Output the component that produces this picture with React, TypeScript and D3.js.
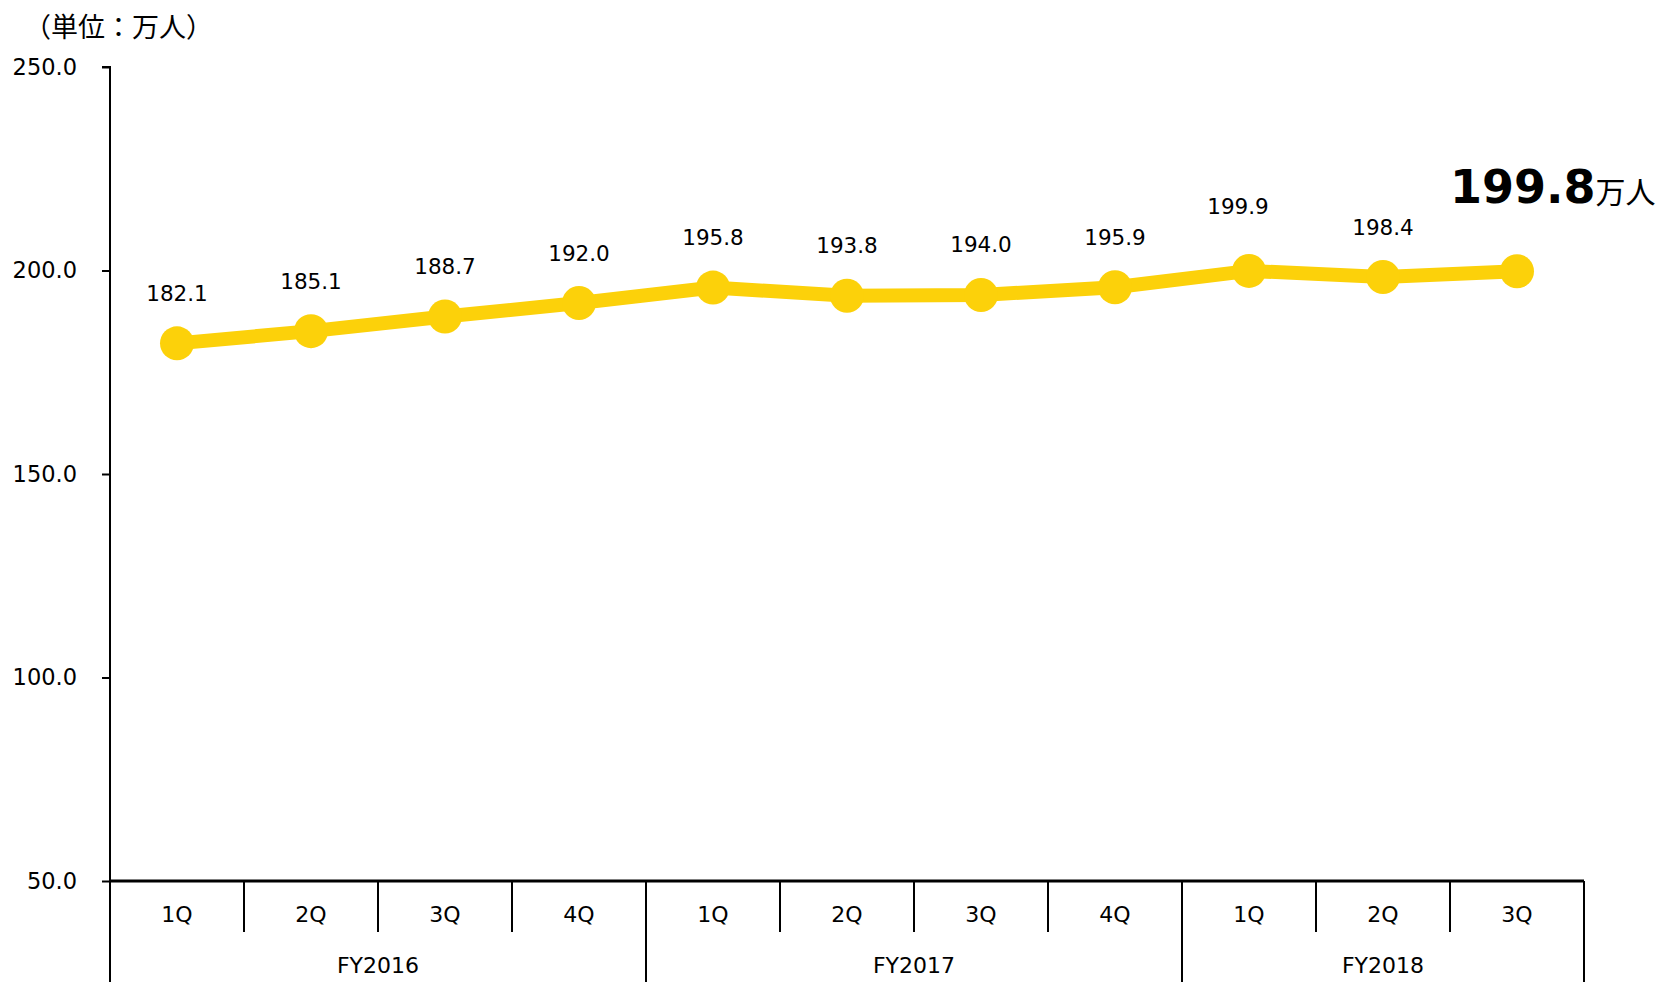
import React, { useEffect, useRef } from "react"
import * as d3 from "d3"

const quarters = ["1Q", "2Q", "3Q", "4Q", "1Q", "2Q", "3Q", "4Q", "1Q", "2Q", "3Q"]
const years = ["FY2016", "FY2017", "FY2018"]
const yearSpans = [4, 4, 3]
const values = [182.1, 185.1, 188.7, 192.0, 195.8, 193.8, 194.0, 195.9, 199.9, 198.4, 199.8]
const yTicks = [50, 100, 150, 200, 250]
const unitLabel = "（単位：万人）"
const unitSuffix = "万人"

const FONT = "'DejaVu Sans', Verdana, 'Noto Sans CJK JP', sans-serif"
const JP_FONT = "'Noto Sans CJK JP', sans-serif"

const App = () => {
  const ref = useRef<SVGSVGElement>(null)

  useEffect(() => {
    const svg = d3.select(ref.current)
    svg.selectAll("*").remove()

    const left = 110
    const right = 1584
    const top = 67
    const bottom = 881

    const idx = quarters.map((_, i) => i)
    const x = d3.scaleBand<number>().domain(idx).range([left, right]).padding(0)
    const y = d3.scaleLinear().domain([50, 250]).range([bottom, top])
    const cx = (i: number) => (x(i) as number) + x.bandwidth() / 2

    // unit label
    svg.append("text")
      .attr("x", 24)
      .attr("y", 37)
      .style("font-family", JP_FONT)
      .style("font-size", "27px")
      .attr("fill", "#000")
      .text(unitLabel)

    // y axis
    const yAxis = d3.axisLeft(y).tickValues(yTicks).tickSize(8).tickFormat(d3.format(".1f"))
    const gy = svg.append("g").attr("transform", `translate(${left},0)`).call(yAxis)
    gy.select(".domain").attr("stroke", "#000").attr("stroke-width", 2).attr("d", `M-8,${top}H0V${bottom}`)
    gy.selectAll(".tick line").attr("stroke", "#000").attr("stroke-width", 2)
    gy.selectAll(".tick text")
      .attr("x", -33)
      .style("font-family", FONT)
      .style("font-size", "22.5px")
      .attr("fill", "#000")

    // x axis line
    svg.append("line")
      .attr("x1", left).attr("x2", right)
      .attr("y1", bottom).attr("y2", bottom)
      .attr("stroke", "#000").attr("stroke-width", 3)

    // category dividers
    const yearStarts: number[] = []
    let acc = 0
    yearSpans.forEach((s) => { yearStarts.push(acc); acc += s })
    const dividers = d3.range(quarters.length + 1)
    svg.selectAll(".div")
      .data(dividers)
      .enter()
      .append("line")
      .attr("x1", (d) => (d < quarters.length ? (x(d) as number) : right))
      .attr("x2", (d) => (d < quarters.length ? (x(d) as number) : right))
      .attr("y1", bottom)
      .attr("y2", (d) => (yearStarts.includes(d) || d === quarters.length ? 982 : 932))
      .attr("stroke", "#000")
      .attr("stroke-width", 2)

    svg.selectAll(".qlab")
      .data(quarters)
      .enter()
      .append("text")
      .attr("x", (_, i) => cx(i))
      .attr("y", 914)
      .attr("text-anchor", "middle")
      .attr("dominant-baseline", "central")
      .style("font-family", FONT)
      .style("font-size", "22px")
      .text((d) => d)

    svg.selectAll(".ylab")
      .data(years)
      .enter()
      .append("text")
      .attr("x", (_, i) => {
        const s = yearStarts[i]
        const e = s + yearSpans[i] - 1
        return ((x(s) as number) + (x(e) as number) + x.bandwidth()) / 2
      })
      .attr("y", 965)
      .attr("text-anchor", "middle")
      .attr("dominant-baseline", "central")
      .style("font-family", FONT)
      .style("font-size", "22px")
      .text((d) => d)

    // line
    const line = d3.line<number>().x((_, i) => cx(i)).y((d) => y(d))
    svg.append("path")
      .datum(values)
      .attr("d", line)
      .attr("fill", "none")
      .attr("stroke", "#FCD10A")
      .attr("stroke-width", 14)

    svg.selectAll(".pt")
      .data(values)
      .enter()
      .append("circle")
      .attr("cx", (_, i) => cx(i))
      .attr("cy", (d) => y(d))
      .attr("r", 17)
      .attr("fill", "#FCD10A")

    // data labels (all but the last)
    svg.selectAll(".vlab")
      .data(values.slice(0, -1))
      .enter()
      .append("text")
      .attr("x", (_, i) => cx(i) + (i === 8 ? -11 : 0))
      .attr("y", (d, i) => y(d) - (i === 8 ? 64 : 50))
      .attr("text-anchor", "middle")
      .attr("dominant-baseline", "central")
      .style("font-family", FONT)
      .style("font-size", "21.5px")
      .attr("fill", "#000")
      .text((d) => d.toFixed(1))

    // highlighted last value
    const last = values[values.length - 1]
    const big = svg.append("text")
      .attr("x", 1450)
      .attr("y", 203)
      .attr("fill", "#000")
    big.append("tspan")
      .style("font-family", FONT)
      .style("font-size", "46px")
      .style("font-weight", "bold")
      .text(last.toFixed(1))
    big.append("tspan")
      .style("font-family", JP_FONT)
      .style("font-size", "30px")
      .text(unitSuffix)
  }, [])

  return (
    <svg
      ref={ref}
      width={1664}
      height={982}
      style={{ position: "absolute", left: 0, top: 0, background: "#fff" }}
    />
  )
}

export default App
